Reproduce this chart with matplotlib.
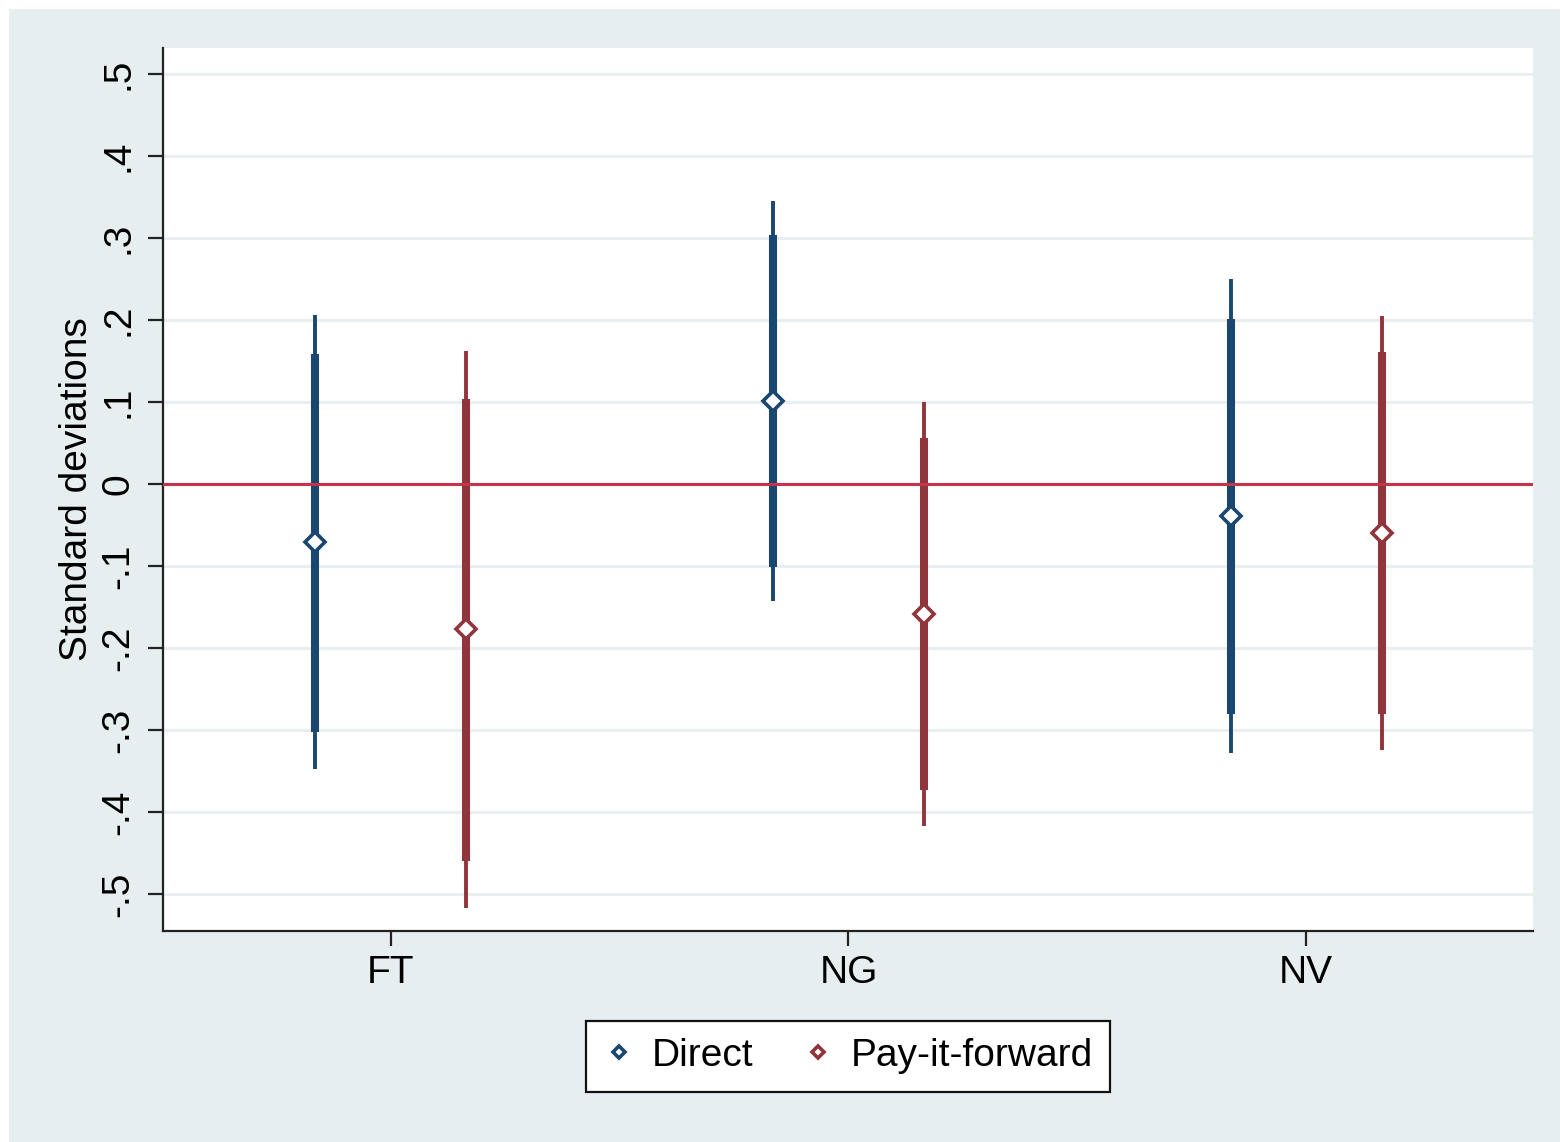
import numpy as np
import matplotlib
matplotlib.use("Agg")
import matplotlib.pyplot as plt
from matplotlib.patches import Rectangle

plt.rcParams['font.family'] = ['Liberation Sans', 'DejaVu Sans']

# point estimates with 90% (thick) and 95% (thin) intervals
groups = ["FT", "NG", "NV"]

direct_est = [-0.071, 0.101, -0.039]
direct_lo90 = [-0.302, -0.101, -0.280]
direct_hi90 = [0.159, 0.304, 0.202]
direct_lo95 = [-0.347, -0.143, -0.328]
direct_hi95 = [0.206, 0.345, 0.250]

pif_est = [-0.177, -0.158, -0.059]
pif_lo90 = [-0.460, -0.373, -0.280]
pif_hi90 = [0.104, 0.056, 0.161]
pif_lo95 = [-0.517, -0.417, -0.324]
pif_hi95 = [0.162, 0.100, 0.205]

yticks = [-0.5, -0.4, -0.3, -0.2, -0.1, 0, 0.1, 0.2, 0.3, 0.4, 0.5]
ytick_labels = ["-.5", "-.4", "-.3", "-.2", "-.1", "0", ".1", ".2", ".3", ".4", ".5"]

navy = "#1a476f"
maroon = "#90353b"
bg = "#e6eef0"

fig = plt.figure(figsize=(15.6, 11.42), dpi=100)
fig.patch.set_facecolor(bg)
# thin white border on top and left, as in the scanned original
fig.patches.append(Rectangle((0, 0), 9 / 1560, 1, transform=fig.transFigure,
                             facecolor="white", edgecolor="none"))
fig.patches.append(Rectangle((0, 1 - 9 / 1142), 1, 9 / 1142, transform=fig.transFigure,
                             facecolor="white", edgecolor="none"))

ax = fig.add_axes([163 / 1560, 1 - 931 / 1142, 1370 / 1560, 883 / 1142])
ax.set_facecolor("white")

x = np.arange(1, len(groups) + 1)
off = 0.165

series = [
    (x - off, direct_est, direct_lo90, direct_hi90, direct_lo95, direct_hi95, navy, "Direct"),
    (x + off, pif_est, pif_lo90, pif_hi90, pif_lo95, pif_hi95, maroon, "Pay-it-forward"),
]
for xs, est, lo90, hi90, lo95, hi95, col, lab in series:
    ax.vlines(xs, lo95, hi95, color=col, lw=2.8, zorder=3)
    ax.vlines(xs, lo90, hi90, color=col, lw=5.8, zorder=3)
    ax.plot(xs, est, ls="none", marker="D", ms=10, mfc="white", mec=col, mew=2.6,
            zorder=5, label=lab)

ax.axhline(0, color="#c8334a", lw=2.2, zorder=4)

ax.set_xlim(0.502, 3.496)
ax.set_ylim(-0.545, 0.532)
ax.set_yticks(yticks)
ax.set_yticklabels(ytick_labels, rotation=90, va="center")
ax.set_xticks(x)
ax.set_xticklabels(groups)
ax.yaxis.grid(True, color="#e9eff1", lw=2.2, zorder=0)
ax.set_axisbelow(True)

for s in ["top", "right"]:
    ax.spines[s].set_visible(False)
for s in ["left", "bottom"]:
    ax.spines[s].set_color("#222222")
    ax.spines[s].set_linewidth(1.6)
ax.tick_params(axis="y", length=11, width=1.6, color="#222222", pad=8, labelsize=28)
ax.tick_params(axis="x", length=11, width=1.6, color="#222222", pad=6, labelsize=28)
ax.set_ylabel("Standard deviations", fontsize=28, labelpad=4)

leg = fig.legend(loc="center", bbox_to_anchor=(848 / 1560, 1 - 1056 / 1142), ncol=2,
                 fontsize=28, frameon=True, fancybox=False, edgecolor="#111111",
                 facecolor="white", framealpha=1,
                 handlelength=0.8, handletextpad=0.45, columnspacing=1.25,
                 borderpad=0.45, borderaxespad=0, markerscale=0.6)
leg.get_frame().set_linewidth(1.6)

fig.savefig("out.png", dpi=100, facecolor=fig.get_facecolor())
